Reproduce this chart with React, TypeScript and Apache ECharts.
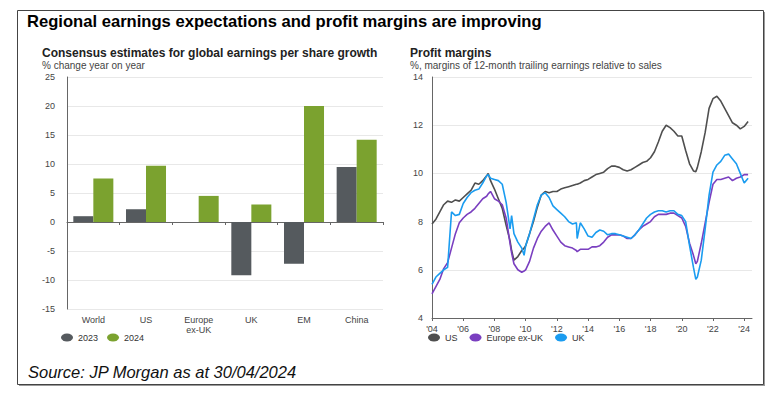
import React, { useEffect, useRef } from "react";
import * as echarts from "echarts";

const regions = ["World", "US", "Europe\nex-UK", "UK", "EM", "China"];
const eps2023 = [1.0, 2.2, null, -9.2, -7.2, 9.5];
const eps2024 = [7.5, 9.7, 4.5, 3.0, 20.0, 14.2];

const dates = [
  2004.0, 2004.25, 2004.5, 2004.75,
  2005.0, 2005.25, 2005.5, 2005.75,
  2006.0, 2006.25, 2006.5, 2006.75,
  2007.0, 2007.25, 2007.5, 2007.6, 2007.75,
  2008.0, 2008.25, 2008.5, 2008.75,
  2009.0, 2009.1, 2009.25, 2009.5, 2009.75, 2009.9,
  2010.0, 2010.25, 2010.5, 2010.75,
  2011.0, 2011.25, 2011.5, 2011.75,
  2012.0, 2012.25, 2012.5, 2012.75,
  2013.0, 2013.25, 2013.3, 2013.5, 2013.75,
  2014.0, 2014.25, 2014.5, 2014.75,
  2015.0, 2015.25, 2015.5, 2015.75,
  2016.0, 2016.25, 2016.5, 2016.75,
  2017.0, 2017.25, 2017.5, 2017.75,
  2018.0, 2018.25, 2018.5, 2018.75,
  2019.0, 2019.25, 2019.5, 2019.75,
  2020.0, 2020.25, 2020.5, 2020.75, 2020.9,
  2021.0, 2021.25, 2021.5, 2021.75,
  2022.0, 2022.25, 2022.5, 2022.75,
  2023.0, 2023.25, 2023.5, 2023.75,
  2024.0, 2024.25,
];

const usMargin = [
  7.9, 8.1, 8.4, 8.7,
  8.85, 8.8, 8.9, 8.85,
  9.0, 9.15, 9.3, 9.6,
  9.55, 9.7, 9.9, 10.0, 9.7,
  9.35, 8.95, 8.55, 7.85,
  7.2, 6.8, 6.4, 6.55, 6.8, 6.9,
  7.0, 7.5, 8.0, 8.6,
  9.1, 9.25, 9.2, 9.25,
  9.25, 9.35, 9.4, 9.45,
  9.5, 9.55, 9.55, 9.6, 9.7,
  9.75, 9.85, 9.95, 10.0,
  10.05, 10.2, 10.3, 10.3,
  10.25, 10.15, 10.1, 10.15,
  10.25, 10.35, 10.45, 10.5,
  10.65, 10.9, 11.3, 11.75,
  12.0, 11.9, 11.75, 11.55,
  11.55, 10.95, 10.4, 10.1, 10.07,
  10.25, 10.9, 11.7, 12.7,
  13.1, 13.2, 13.0, 12.7,
  12.4, 12.1, 12.0, 11.85,
  11.95, 12.15,
];

const europeMargin = [
  5.0, 5.3, 5.6, 6.05,
  6.3, 6.9, 7.5, 7.95,
  8.15, 8.3, 8.4, 8.55,
  8.75, 8.95, 9.05, 9.15, 9.25,
  8.95, 8.85, 8.7, 8.15,
  7.1, 6.7, 6.25, 6.0, 5.9, 5.95,
  6.0, 6.35, 6.9, 7.3,
  7.6, 7.8, 7.95, 7.65,
  7.4, 7.15, 7.0, 6.95,
  6.9, 6.8, 6.75, 6.85, 6.85,
  6.85, 6.95, 6.95, 7.0,
  7.15, 7.35, 7.45, 7.45,
  7.45, 7.4, 7.3, 7.3,
  7.45, 7.65, 7.8, 7.9,
  8.0, 8.2, 8.3, 8.3,
  8.3, 8.35, 8.35, 8.25,
  8.15, 7.8, 7.1, 6.6, 6.25,
  6.35, 7.1, 7.95, 8.8,
  9.55, 9.75, 9.75, 9.8,
  9.85, 9.7, 9.8, 9.85,
  9.95, 9.95,
];

const ukMargin = [
  5.4, 5.7, 5.85, 6.0,
  6.1, 8.4, 8.25, 8.3,
  8.75, 9.0, 9.2, 9.3,
  9.35, 9.6, 9.9, 9.95, 9.8,
  9.75, 9.7, 9.55, 8.8,
  7.7, 8.25, 7.5, 7.15, 6.9, 6.6,
  7.0, 7.5, 8.1, 8.7,
  9.1, 9.2, 9.0, 8.65,
  8.5, 8.35, 8.2, 8.0,
  7.9, 7.95, 7.3, 7.95, 7.7,
  7.4, 7.35, 7.55, 7.65,
  7.6, 7.45, 7.5, 7.5,
  7.45, 7.4, 7.35, 7.3,
  7.45, 7.65, 7.9, 8.15,
  8.3, 8.4, 8.45, 8.45,
  8.4, 8.45, 8.45, 8.3,
  8.25, 8.0, 7.0, 6.1, 5.6,
  5.7, 6.4, 7.7, 9.1,
  10.05, 10.35, 10.5, 10.75,
  10.8, 10.6, 10.4, 10.0,
  9.6, 9.8,
];

const yearTicks = [2004, 2006, 2008, 2010, 2012, 2014, 2016, 2018, 2020, 2022, 2024];

const FONT = "'Liberation Sans', Arial, sans-serif";
const ELLIPSE = "path://M0,4a6,4 0 1,0 12,0a6,4 0 1,0 -12,0z";

export default function App() {
  const ref = useRef<HTMLDivElement>(null);

  useEffect(() => {
    if (!ref.current) return;
    const chart = echarts.init(ref.current, null, { renderer: "svg" });
    const axisLabel = { color: "#444", fontSize: 9, fontFamily: FONT };
    const toPairs = (vals: number[]) => dates.map((d, i) => [d, vals[i]]);

    chart.setOption({
      animation: false,
      backgroundColor: "#ffffff",
      textStyle: { fontFamily: FONT },
      graphic: [
        { type: "rect", shape: { x: 19, y: 12, width: 746, height: 374 }, style: { fill: "#9a9a9a" }, z: -2 },
        { type: "rect", shape: { x: 17.5, y: 10.5, width: 746, height: 374 }, style: { fill: "#fff", stroke: "#444", lineWidth: 1 }, z: -1 },
        { type: "text", x: 27, y: 21, style: { text: "Regional earnings expectations and profit margins are improving", font: `bold 16.6px ${FONT}`, fill: "#000", verticalAlign: "middle" } },
        { type: "text", x: 42, y: 53, style: { text: "Consensus estimates for global earnings per share growth", font: `bold 12px ${FONT}`, fill: "#222", verticalAlign: "middle" } },
        { type: "text", x: 42, y: 65.5, style: { text: "% change year on year", font: `10px ${FONT}`, fill: "#444", verticalAlign: "middle" } },
        { type: "text", x: 410, y: 53, style: { text: "Profit margins", font: `bold 12px ${FONT}`, fill: "#222", verticalAlign: "middle" } },
        { type: "text", x: 410, y: 65.5, style: { text: "%, margins of 12-month trailing earnings relative to sales", font: `10px ${FONT}`, fill: "#444", verticalAlign: "middle" } },
        { type: "text", x: 28, y: 372, style: { text: "Source: JP Morgan as at 30/04/2024", font: `italic 16.5px ${FONT}`, fill: "#111", verticalAlign: "middle" } },
      ],
      grid: [
        { left: 67, top: 77, width: 316, height: 232 },
        { left: 432, top: 77, width: 320, height: 241 },
      ],
      legend: [
        {
          data: ["2023", "2024"], left: 61, top: 333, padding: 0, icon: ELLIPSE, itemWidth: 12, itemHeight: 8, itemGap: 9,
          textStyle: { fontSize: 9, color: "#333", fontFamily: FONT },
        },
        {
          data: ["US", "Europe ex-UK", "UK"], left: 428, top: 333, padding: 0, icon: ELLIPSE, itemWidth: 12, itemHeight: 8, itemGap: 12,
          textStyle: { fontSize: 9, color: "#333", fontFamily: FONT },
        },
      ],
      xAxis: [
        {
          type: "category", gridIndex: 0, data: regions, position: "bottom",
          axisLine: { show: false, onZero: false }, axisTick: { show: false },
          axisLabel: { ...axisLabel, interval: 0, margin: 6, lineHeight: 10 },
        },
        {
          type: "category", gridIndex: 0, data: regions, position: "bottom",
          axisLine: { show: true, onZero: true, lineStyle: { color: "#666", width: 1 } },
          axisTick: { show: true, length: 3, lineStyle: { color: "#666" } },
          axisLabel: { show: false },
        },
        {
          type: "value", gridIndex: 1, min: 2004, max: 2024.5,
          axisLine: { show: true, onZero: false, lineStyle: { color: "#666" } },
          axisTick: { show: true, length: 3, customValues: yearTicks, lineStyle: { color: "#666" } },
          axisLabel: { ...axisLabel, margin: 6, customValues: yearTicks, formatter: (v: number) => "'" + String(Math.round(v)).slice(2) },
          splitLine: { show: false },
        },
      ],
      yAxis: [
        {
          type: "value", gridIndex: 0, min: -15, max: 25, interval: 5,
          axisLine: { show: true, lineStyle: { color: "#666" } }, axisTick: { show: false },
          axisLabel: { ...axisLabel, margin: 12 },
          splitLine: { show: true, lineStyle: { color: "#e8e8e8" } },
        },
        {
          type: "value", gridIndex: 1, min: 4, max: 14, interval: 2,
          axisLine: { show: true, lineStyle: { color: "#666" } }, axisTick: { show: false },
          axisLabel: { ...axisLabel, margin: 9 },
          splitLine: { show: true, lineStyle: { color: "#e8e8e8" } },
        },
      ],
      series: [
        {
          name: "2023", type: "bar", xAxisIndex: 0, yAxisIndex: 0, data: eps2023,
          barGap: "0%", barCategoryGap: "24%", itemStyle: { color: "#555a5e" },
        },
        {
          name: "2024", type: "bar", xAxisIndex: 0, yAxisIndex: 0, data: eps2024,
          barGap: "0%", barCategoryGap: "24%", itemStyle: { color: "#7ba22f" },
        },
        {
          name: "US", type: "line", xAxisIndex: 2, yAxisIndex: 1, data: toPairs(usMargin),
          showSymbol: false, lineStyle: { color: "#4f4f4f", width: 1.6 }, itemStyle: { color: "#4f4f4f" },
        },
        {
          name: "Europe ex-UK", type: "line", xAxisIndex: 2, yAxisIndex: 1, data: toPairs(europeMargin),
          showSymbol: false, lineStyle: { color: "#7a3fc0", width: 1.6 }, itemStyle: { color: "#7a3fc0" },
        },
        {
          name: "UK", type: "line", xAxisIndex: 2, yAxisIndex: 1, data: toPairs(ukMargin),
          showSymbol: false, lineStyle: { color: "#1a9cf0", width: 1.6 }, itemStyle: { color: "#1a9cf0" },
        },
      ],
    });

    return () => chart.dispose();
  }, []);

  return (
    <div
      ref={ref}
      style={{ position: "fixed", left: 0, top: 0, width: 770, height: 393, background: "#fff" }}
    />
  );
}
